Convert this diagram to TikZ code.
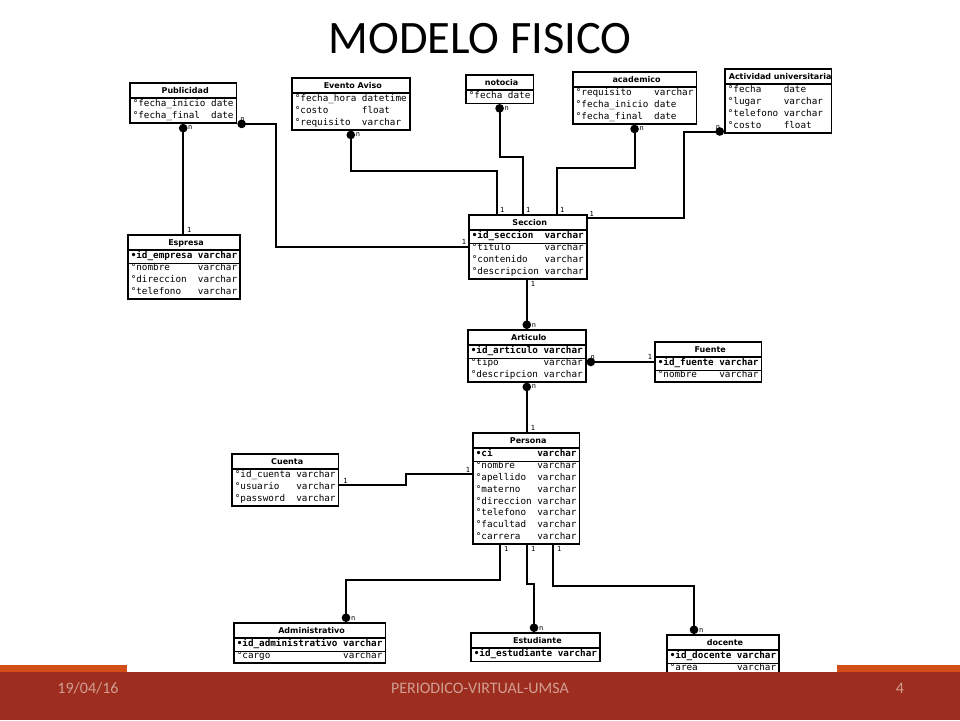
\documentclass[tikz,border=0pt]{standalone}
\usepackage{fontspec}
\setmainfont{Carlito}
\newfontfamily\erfont{DejaVu Sans Mono}
\newfontfamily\hdfont{DejaVu Sans}
\usetikzlibrary{shapes.multipart,arrows.meta}

\definecolor{band}{RGB}{156,45,31}
\definecolor{strip}{RGB}{211,77,24}
\definecolor{foottext}{RGB}{210,158,146}

\setlength{\arrayrulewidth}{0.8pt}
\newcommand{\hd}[1]{\rule[-4pt]{0pt}{13.5pt}\hspace{4pt}{\hdfont\bfseries\fontsize{8}{9}\selectfont #1}\hspace{4pt}}
\newcommand{\pk}[2]{\textbf{•#1} & \textbf{#2}\\\cline{1-2}}
\newenvironment{fields}{\begin{tabular}{@{\hspace{3pt}}l@{\hspace{5.6pt}}l@{\hspace{3pt}}}}{\end{tabular}}

\begin{document}
\begin{tikzpicture}[x=1pt,y=-1pt,
  entity/.style={rectangle split, rectangle split parts=2,
    rectangle split part align={center,left}, draw, line width=1.6pt,
    inner sep=0pt, anchor=north west, font=\erfont\fontsize{9.3}{11.8}\selectfont},
  rel/.style={line width=2pt},
  many/.style={{Circle[length=8.5pt]}-},
  card/.style={font=\erfont\fontsize{7}{8}\selectfont, inner sep=1pt}]
\useasboundingbox (0,0) rectangle (960,720);
\fill[white] (0,0) rectangle (960,720);

\node[font=\fontsize{46.5}{50}\selectfont, anchor=base] (title) at (480,53) {MODELO FISICO};

% entidades
\node[entity] (pub) at (129,82) {\hd{Publicidad}\nodepart{two}\begin{fields}
°fecha\_inicio & date\\
°fecha\_final & date
\end{fields}};
\node[entity] (evt) at (291,77) {\hd{Evento Aviso}\nodepart{two}\begin{fields}
°fecha\_hora & datetime\\
°costo & float\\
°requisito & varchar
\end{fields}};
\node[entity] (noto) at (465,74) {\hd{notocia}\nodepart{two}\begin{fields}
°fecha & date
\end{fields}};
\node[entity] (acad) at (572,71) {\hd{academico}\nodepart{two}\begin{fields}
°requisito & varchar\\
°fecha\_inicio & date\\
°fecha\_final & date
\end{fields}};
\node[entity] (act) at (724,68) {\hd{Actividad universitaria}\nodepart{two}\begin{fields}
°fecha & date\\
°lugar & varchar\\
°telefono & varchar\\
°costo & float
\end{fields}};
\node[entity] (sec) at (468,214) {\hd{Seccion}\nodepart{two}\begin{fields}
\pk{id\_seccion}{varchar}
°titulo & varchar\\
°contenido & varchar\\
°descripcion & varchar
\end{fields}};
\node[entity] (esp) at (127,234) {\hd{Espresa}\nodepart{two}\begin{fields}
\pk{id\_empresa}{varchar}
°nombre & varchar\\
°direccion & varchar\\
°telefono & varchar
\end{fields}};
\node[entity] (art) at (467,329) {\hd{Articulo}\nodepart{two}\begin{fields}
\pk{id\_articulo}{varchar}
°tipo & varchar\\
°descripcion & varchar
\end{fields}};
\node[entity] (fue) at (654,341) {\hd{Fuente}\nodepart{two}\begin{fields}
\pk{id\_fuente}{varchar}
°nombre & varchar
\end{fields}};
\node[entity] (per) at (472,432) {\hd{Persona}\nodepart{two}\begin{fields}
\pk{ci}{varchar}
°nombre & varchar\\
°apellido & varchar\\
°materno & varchar\\
°direccion & varchar\\
°telefono & varchar\\
°facultad & varchar\\
°carrera & varchar
\end{fields}};
\node[entity] (cue) at (231,453) {\hd{Cuenta}\nodepart{two}\begin{fields}
°id\_cuenta & varchar\\
°usuario & varchar\\
°password & varchar
\end{fields}};
\node[entity] (adm) at (233,622) {\hd{Administrativo}\nodepart{two}\begin{fields}
\pk{id\_administrativo}{varchar}
°cargo & varchar
\end{fields}};
\node[entity] (est) at (470,632) {\hd{Estudiante}\nodepart{two}\begin{fields}
\pk{id\_estudiante}{varchar}
\end{fields}};
\node[entity] (doc) at (666,634) {\hd{docente}\nodepart{two}\begin{fields}
\pk{id\_docente}{varchar}
°area & varchar
\end{fields}};

% relaciones
\coordinate (k1) at (276,245);
\coordinate (k2) at (497,171);
\coordinate (k3) at (523,157);
\coordinate (k4) at (557,168);
\coordinate (k5) at (684,218);
\coordinate (k6) at (406,485);
\coordinate (k7) at (406,474);
\coordinate (k8) at (346,580);
\coordinate (k9) at (500,580);
\coordinate (k10) at (534,584);
\coordinate (k11) at (527,584);
\coordinate (k12) at (694,586);
\coordinate (k13) at (553,586);

\draw[rel,many] (pub.south) node[card,anchor=north west,xshift=3pt] (n1) {n}
  -- (pub.south |- esp.north) node[card,anchor=south west,xshift=2pt] (o1) {1};
\draw[rel,many] (pub.south east) node[card,anchor=south west,xshift=1pt] (n2) {n}
  -| (k1 |- sec.west) -- (sec.west) node[card,anchor=south east] (o2) {1};
\draw[rel,many] (evt.south) node[card,anchor=north west,xshift=3pt] (n3) {n}
  |- (k2) -- (k2 |- sec.north) node[card,anchor=south west,xshift=1pt] (o3) {1};
\draw[rel,many] (noto.south) node[card,anchor=north west,xshift=3pt] (n4) {n}
  |- (k3) -- (k3 |- sec.north) node[card,anchor=south west,xshift=1pt] (o4) {1};
\draw[rel,many] (acad.south) node[card,anchor=north west,xshift=3pt] (n5) {n}
  |- (k4) -- (k4 |- sec.north) node[card,anchor=south west,xshift=1pt] (o5) {1};
\draw[rel,many] ([yshift=2pt]act.south west) node[card,anchor=south east,xshift=-2pt] (n6) {n}
  -| (k5) -- (k5 -| sec.east) node[card,anchor=south west] (o6) {1};
\draw[rel,many] (art.north) node[card,anchor=south west,xshift=3pt] (n7) {n}
  -- (art.north |- sec.south) node[card,anchor=north west,xshift=2pt] (o7) {1};
\draw[rel,many] (art.east |- fue.west) node[card,anchor=south west,xshift=2pt] (n8) {n}
  -- (fue.west) node[card,anchor=south east] (o8) {1};
\draw[rel,many] (art.south) node[card,anchor=north west,xshift=3pt] (n9) {n}
  -- (art.south |- per.north) node[card,anchor=south west,xshift=2pt] (o9) {1};
\draw[rel] (k6 -| cue.east) node[card,anchor=south west,xshift=2pt] (o10) {1}
  -- (k6) -- (k7) -- (k7 -| per.west) node[card,anchor=south east] (p10) {1};
\draw[rel,many] (k8 |- adm.north) node[card,anchor=south west,xshift=3pt] (n11) {n}
  -- (k8) -- (k9) -- (k9 |- per.south) node[card,anchor=north west,xshift=2pt] (o11) {1};
\draw[rel,many] (k10 |- est.north) node[card,anchor=south west,xshift=3pt] (n12) {n}
  -- (k10) -- (k11) -- (k11 |- per.south) node[card,anchor=north west,xshift=2pt] (o12) {1};
\draw[rel,many] (k12 |- doc.north) node[card,anchor=south west,xshift=3pt] (n13) {n}
  -- (k12) -- (k13) -- (k13 |- per.south) node[card,anchor=north west,xshift=2pt] (o13) {1};

% pie
\fill[strip] (0,665) rectangle (127,672);
\fill[strip] (837,665) rectangle (960,672);
\fill[band] (0,672) rectangle (960,720);
\node[foottext, font=\fontsize{16}{18}\selectfont, anchor=base] (date) at (88,693) {19/04/16};
\node[foottext, font=\fontsize{16}{18}\selectfont, anchor=base] (foot) at (480,693) {PERIODICO-VIRTUAL-UMSA};
\node[foottext, font=\fontsize{16}{18}\selectfont, anchor=base] (page) at (900,693) {4};
\end{tikzpicture}
\end{document}
